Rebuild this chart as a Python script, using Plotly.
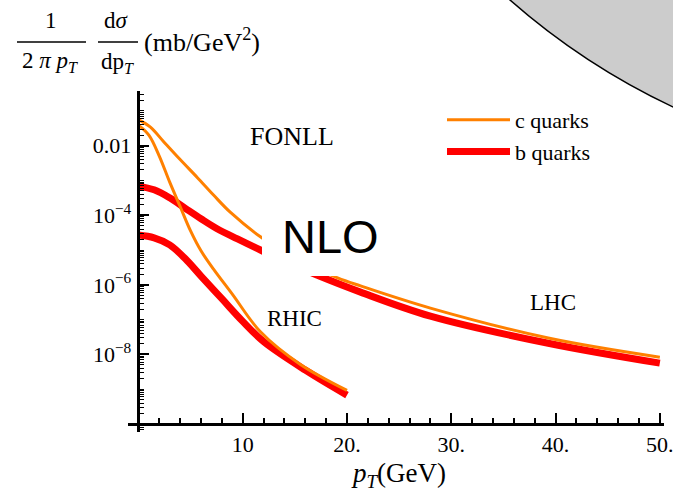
import plotly.graph_objects as go

# ---------------- data ----------------
lhc_c_pt = [0, 1.15, 2.4, 4, 5.66, 7.2, 8.83, 11.7, 15, 19.1, 21.3, 28, 39.3, 50]
lhc_c_val = [5.6e-2, 3.4e-2, 1.32e-2, 3.98e-3, 1.2e-3, 3.8e-4, 1.2e-4, 2.4e-5,
             5.6e-6, 1.58e-6, 9.3e-7, 2.14e-7, 2.95e-8, 8.3e-9]

lhc_b_pt = [0, 1.5, 3, 4.5, 6, 7.5, 9.5, 11.7, 14, 17.1, 21.3, 28, 39.3, 50]
lhc_b_val = [6.76e-4, 5.37e-4, 3.16e-4, 1.58e-4, 7.94e-5, 4.17e-5, 2.09e-5, 1.0e-5,
             4.79e-6, 1.91e-6, 6.17e-7, 1.26e-7, 2.09e-8, 5.6e-9]

rhic_c_pt = [0, 1, 2, 3, 4, 5, 6, 7.2, 9, 11.7, 15.5, 20]
rhic_c_val = [3.89e-2, 2.0e-2, 5.0e-3, 8.9e-4, 1.78e-4, 3.55e-5, 9.5e-6, 2.82e-6,
              5.4e-7, 4.47e-8, 5.25e-9, 9.3e-10]

rhic_b_pt = [0, 1.5, 3, 4.5, 6, 8, 10, 12, 16, 20]
rhic_b_val = [2.69e-5, 2.24e-5, 1.41e-5, 5.6e-6, 1.78e-6, 3.98e-7, 8.9e-8, 2.34e-8,
              3.55e-9, 6.76e-10]

x_tickvals = [10, 20, 30, 40, 50]
x_ticktext = ["10", "20.", "30.", "40.", "50."]
y_tickvals = [1e-8, 1e-6, 1e-4, 1e-2]
y_ticktext = ["10<sup>\u22128</sup>", "10<sup>\u22126</sup>", "10<sup>\u22124</sup>", "0.01"]

series_names = ["c quarks", "b quarks"]

# ---------------- styling ----------------
W, H = 673, 492
ML, MR, MT, MB = 128, 9, 91, 60
PW, PH = W - ML - MR, H - MT - MB
ORANGE = "#FF8000"
RED = "#FF0000"
SERIF = "Liberation Serif, Times New Roman, serif"
SANS = "Liberation Sans, Arial, sans-serif"


def px(x):
    return (x - ML) / PW


def py(y):
    return (H - MB - y) / PH


fig = go.Figure()

# red (b) drawn first, orange (c) on top
fig.add_trace(go.Scatter(x=lhc_b_pt, y=lhc_b_val, mode="lines", name=series_names[1],
                         line=dict(color=RED, width=7, shape="spline"),
                         showlegend=True, legendrank=2))
fig.add_trace(go.Scatter(x=rhic_b_pt, y=rhic_b_val, mode="lines", name=series_names[1],
                         line=dict(color=RED, width=7, shape="spline"),
                         showlegend=False))
fig.add_trace(go.Scatter(x=lhc_c_pt, y=lhc_c_val, mode="lines", name=series_names[0],
                         line=dict(color=ORANGE, width=3, shape="spline"),
                         showlegend=True, legendrank=1))
fig.add_trace(go.Scatter(x=rhic_c_pt, y=rhic_c_val, mode="lines", name=series_names[0],
                         line=dict(color=ORANGE, width=3, shape="spline"),
                         showlegend=False))

xr = [-1, 50.4]
yr = [-10.23, -0.43]

fig.update_layout(
    width=W, height=H,
    margin=dict(l=ML, r=MR, t=MT, b=MB, pad=0, autoexpand=False),
    paper_bgcolor="white", plot_bgcolor="white",
    font=dict(family=SERIF, size=22, color="black"),
    showlegend=True,
    legend=dict(x=px(442), y=py(99), xanchor="left", yanchor="top",
                bgcolor="rgba(0,0,0,0)", borderwidth=0,
                font=dict(family=SERIF, size=22, color="black"),
                itemwidth=63, tracegroupgap=0),
    xaxis=dict(range=xr, anchor="free", position=(-10 - yr[0]) / (yr[1] - yr[0]),
               automargin=False,
               showline=True, linecolor="black", linewidth=2.5,
               showgrid=False, zeroline=False,
               ticks="inside", ticklen=10, tickwidth=2, tickcolor="black",
               tickmode="array", tickvals=x_tickvals, ticktext=x_ticktext,
               ticklabeloverflow="allow",
               tickfont=dict(family=SERIF, size=22, color="black"),
               minor=dict(dtick=2, tick0=0, ticks="inside", ticklen=5, tickwidth=1.5,
                          tickcolor="black", showgrid=False)),
    yaxis=dict(type="log", range=yr, anchor="free", position=(0 - xr[0]) / (xr[1] - xr[0]),
               automargin=False,
               showline=True, linecolor="black", linewidth=2.5,
               showgrid=False, zeroline=False,
               ticks="inside", ticklen=9, tickwidth=2, tickcolor="black",
               tickmode="array", tickvals=y_tickvals, ticktext=y_ticktext,
               ticklabelstandoff=2, ticklabeloverflow="allow",
               tickfont=dict(family=SERIF, size=22, color="black"),
               minor=dict(dtick="D1", ticks="inside", ticklen=4, tickwidth=1.2,
                          tickcolor="black", showgrid=False)),
)

shapes = []
# white box behind NLO label
shapes.append(dict(type="rect", xref="paper", yref="paper",
                   x0=px(262), x1=px(420), y0=py(276), y1=py(196),
                   fillcolor="white", line=dict(width=0), layer="above"))
# grey circle in the top-right corner
cx, cy, r = 974.5, -530, 704.7
shapes.append(dict(type="circle", xref="paper", yref="paper",
                   x0=px(cx - r), x1=px(cx + r), y0=py(cy + r), y1=py(cy - r),
                   fillcolor="#CCCCCC", line=dict(color="black", width=1.5), layer="above"))
# fraction bars of the y label
shapes.append(dict(type="line", xref="paper", yref="paper",
                   x0=px(17), x1=px(86), y0=py(42), y1=py(42),
                   line=dict(color="black", width=1.5)))
shapes.append(dict(type="line", xref="paper", yref="paper",
                   x0=px(98), x1=px(138), y0=py(42), y1=py(42),
                   line=dict(color="black", width=1.5)))
fig.update_layout(shapes=shapes)

ann = []


def txt(t, x, y, size=22, family=SERIF, xanchor="center"):
    ann.append(dict(text=t, x=px(x), y=py(y), xref="paper", yref="paper",
                    showarrow=False, xanchor=xanchor, yanchor="middle",
                    font=dict(family=family, size=size, color="black")))


txt("1", 51, 21, 23)
txt("2 <i>\u03c0</i> <i>p</i><sub><i>T</i></sub>", 50, 62, 23)
txt("d<i>\u03c3</i>", 116, 21, 23)
txt("dp<sub><i>T</i></sub>", 117, 63, 23)
txt("(mb/GeV<sup>2</sup>)", 142, 41, 26, xanchor="left")
txt("<i>p</i><sub><i>T</i></sub>(GeV)", 398, 475, 27)
txt("FONLL", 292, 136, 26)
txt("RHIC", 294, 318, 23)
txt("LHC", 553, 302, 23)
txt("NLO", 330, 237, 47, family=SANS)
fig.update_layout(annotations=ann)

fig.write_html("out.html", config={"displayModeBar": False},
               post_script="document.body.style.margin='0px';")
